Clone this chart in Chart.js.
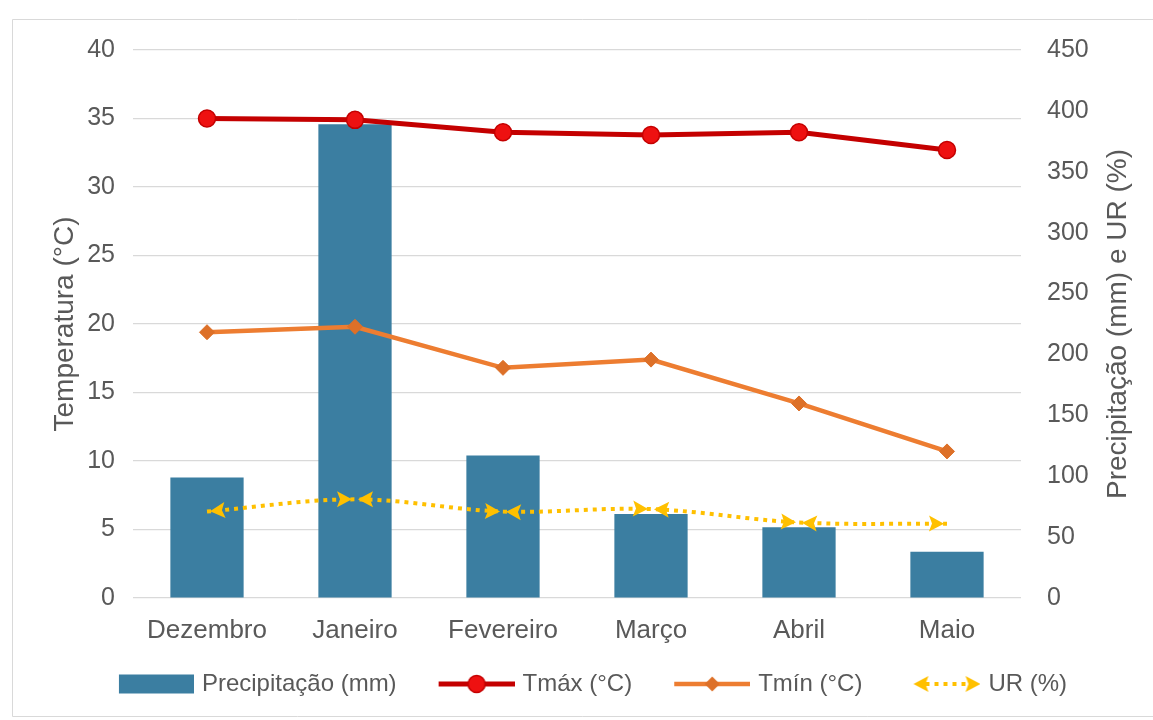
<!DOCTYPE html>
<html lang="pt">
<head>
<meta charset="utf-8">
<title>Clima mensal</title>
<script src="https://cdn.jsdelivr.net/npm/chart.js@4/dist/chart.umd.min.js"></script>
<style>
  html, body { margin: 0; padding: 0; background: #ffffff; }
  #wrap { position: relative; width: 1153px; height: 720px; }
  canvas { display: block; }
</style>
</head>
<body>
<div id="wrap"><canvas id="chart" width="1153" height="720"></canvas></div>
<script>
// Monthly data
const months = ['Dezembro', 'Janeiro', 'Fevereiro', 'Março', 'Abril', 'Maio'];
const precipitacao = [99, 389, 117, 69, 58, 38];       // mm (right axis)
const tmax = [35.0, 34.9, 34.0, 33.8, 34.0, 32.7];      // °C (left axis)
const tmin = [19.4, 19.8, 16.8, 17.4, 14.2, 10.7];      // °C (left axis)
const ur = [71, 81, 71, 73, 62, 61];                    // % (right axis)

const tempTicks = { min: 0, max: 40, step: 5 };
const rightTicks = { min: 0, max: 450, step: 50 };
const rightTitle = 'Precipitação (mm) e UR (%)';

const TEXT = '#595959';
const GRID = '#d9d9d9';
const BAR = '#3b7ea1';
const TMAX_LINE = '#c40000';
const TMAX_POINT = '#ee1111';
const TMIN_LINE = '#ed7d31';
const TMIN_POINT = '#dd7028';
const UR_COLOR = '#ffc000';
const FONT = '"Liberation Sans", Arial, sans-serif';

Chart.defaults.font.family = FONT;
Chart.defaults.color = TEXT;

// Arrowhead with a shallow notch: tip at (x, y), pointing along (dx, dy)
function arrowHead(ctx, x, y, dx, dy, len, half, notch, color) {
  const n = Math.hypot(dx, dy) || 1;
  const ux = dx / n, uy = dy / n;
  const px = -uy, py = ux;
  const bx = x - ux * len, by = y - uy * len;
  ctx.beginPath();
  ctx.moveTo(x, y);
  ctx.lineTo(bx + px * half, by + py * half);
  ctx.lineTo(x - ux * (len - notch), y - uy * (len - notch));
  ctx.lineTo(bx - px * half, by - py * half);
  ctx.closePath();
  ctx.fillStyle = color;
  ctx.fill();
}

// Legend symbols (drawn into small canvases used as point styles)
const LEGEND_BOX = 104;
const LEGEND_R = LEGEND_BOX / 2 + 4;
function legendSymbol(kind) {
  const c = document.createElement('canvas');
  c.width = LEGEND_R * 2;
  c.height = 30;
  const g = c.getContext('2d');
  const right = c.width;
  const cy = 15;
  if (kind === 'bar') {
    const s = 75;
    g.fillStyle = BAR;
    g.fillRect(right - s, cy - 9.5, s, 19);
  } else if (kind === 'tmax') {
    const s = 76, l = right - s;
    g.strokeStyle = TMAX_LINE; g.lineWidth = 5;
    g.beginPath(); g.moveTo(l, cy); g.lineTo(right, cy); g.stroke();
    g.beginPath(); g.arc(l + s / 2, cy, 8.5, 0, Math.PI * 2);
    g.fillStyle = TMAX_POINT; g.fill();
    g.lineWidth = 1.5; g.strokeStyle = TMAX_LINE; g.stroke();
  } else if (kind === 'tmin') {
    const s = 76, l = right - s, m = l + s / 2;
    g.strokeStyle = TMIN_LINE; g.lineWidth = 4.5;
    g.beginPath(); g.moveTo(l, cy); g.lineTo(right, cy); g.stroke();
    g.beginPath(); g.moveTo(m, cy - 7.5); g.lineTo(m + 7.5, cy); g.lineTo(m, cy + 7.5); g.lineTo(m - 7.5, cy); g.closePath();
    g.fillStyle = TMIN_POINT; g.fill();
  } else {
    const s = 67, l = right - s;
    g.strokeStyle = UR_COLOR; g.lineWidth = 4; g.setLineDash([4, 5]);
    g.beginPath(); g.moveTo(l + 12, cy); g.lineTo(right - 12, cy); g.stroke();
    g.setLineDash([]);
    arrowHead(g, l, cy, -1, 0, 15, 8, 3, UR_COLOR);
    arrowHead(g, right, cy, 1, 0, 15, 8, 3, UR_COLOR);
  }
  return c;
}
const legendSymbols = [legendSymbol('bar'), legendSymbol('tmax'), legendSymbol('tmin'), legendSymbol('ur')];

// White background and light outer frame
const framePlugin = {
  id: 'frame',
  beforeDraw(chart) {
    const ctx = chart.ctx;
    ctx.save();
    ctx.fillStyle = '#ffffff';
    ctx.fillRect(0, 0, chart.width, chart.height);
    ctx.strokeStyle = GRID;
    ctx.lineWidth = 1;
    ctx.beginPath();
    ctx.moveTo(1153, 19.5); ctx.lineTo(12.5, 19.5); ctx.lineTo(12.5, 716.5); ctx.lineTo(1153, 716.5);
    ctx.stroke();
    ctx.restore();
  }
};

// Right axis title, read from bottom to top
const rightTitlePlugin = {
  id: 'rightTitle',
  afterDraw(chart) {
    const area = chart.chartArea;
    const ctx = chart.ctx;
    ctx.save();
    ctx.translate(1118, (area.top + area.bottom) / 2);
    ctx.rotate(-Math.PI / 2);
    ctx.font = '28px ' + FONT;
    ctx.fillStyle = TEXT;
    ctx.textAlign = 'center';
    ctx.textBaseline = 'middle';
    ctx.fillText(rightTitle, 0, 0);
    ctx.restore();
  }
};

// Arrowheads at both ends of every segment of the humidity line
const segmentArrows = {
  id: 'segmentArrows',
  afterDatasetsDraw(chart) {
    const idx = chart.data.datasets.findIndex(d => d.segmentArrows);
    if (idx < 0) return;
    const meta = chart.getDatasetMeta(idx);
    const pts = meta.data;
    const ctx = chart.ctx;
    const color = chart.data.datasets[idx].borderColor;
    ctx.save();
    for (let i = 0; i < pts.length - 1; i++) {
      const a = pts[i], b = pts[i + 1];
      let sx = a.x - a.cp2x, sy = a.y - a.cp2y;
      if (!isFinite(sx) || Math.hypot(sx, sy) < 0.5) { sx = a.x - b.x; sy = a.y - b.y; }
      let ex = b.x - b.cp1x, ey = b.y - b.cp1y;
      if (!isFinite(ex) || Math.hypot(ex, ey) < 0.5) { ex = b.x - a.x; ey = b.y - a.y; }
      const sn = Math.hypot(sx, sy), en = Math.hypot(ex, ey);
      arrowHead(ctx, a.x - sx / sn * 3, a.y - sy / sn * 3, sx, sy, 15, 8, 3, color);
      arrowHead(ctx, b.x - ex / en * 3, b.y - ey / en * 3, ex, ey, 15, 8, 3, color);
    }
    ctx.restore();
  }
};

const ctx = document.getElementById('chart').getContext('2d');
new Chart(ctx, {
  data: {
    labels: months,
    datasets: [
      {
        type: 'bar',
        label: 'Precipitação (mm)',
        data: precipitacao,
        yAxisID: 'yRight',
        backgroundColor: BAR,
        barPercentage: 1,
        categoryPercentage: 0.495,
        order: 10
      },
      {
        type: 'line',
        label: 'Tmáx (°C)',
        data: tmax,
        yAxisID: 'yTemp',
        borderColor: TMAX_LINE,
        borderWidth: 5,
        pointStyle: 'circle',
        pointRadius: 8.5,
        pointBackgroundColor: TMAX_POINT,
        pointBorderColor: TMAX_LINE,
        pointBorderWidth: 1.5,
        tension: 0,
        order: 1
      },
      {
        type: 'line',
        label: 'Tmín (°C)',
        data: tmin,
        yAxisID: 'yTemp',
        borderColor: TMIN_LINE,
        borderWidth: 4.5,
        pointStyle: 'rectRot',
        pointRadius: 7.5,
        pointBackgroundColor: TMIN_POINT,
        pointBorderColor: TMIN_POINT,
        pointBorderWidth: 1,
        tension: 0,
        order: 2
      },
      {
        type: 'line',
        label: 'UR (%)',
        data: ur,
        yAxisID: 'yRight',
        borderColor: UR_COLOR,
        borderWidth: 4,
        borderDash: [4, 5],
        pointRadius: 0,
        tension: 0.35,
        segmentArrows: true,
        order: 3
      }
    ]
  },
  options: {
    responsive: false,
    animation: false,
    layout: { padding: { left: 0, right: 0, top: 50, bottom: 14 } },
    scales: {
      x: {
        offset: true,
        grid: { display: false },
        border: { display: false },
        ticks: { font: { size: 26 }, color: TEXT, padding: 9, maxRotation: 0 },
        afterFit(s) { s.height = 64; }
      },
      yTemp: {
        position: 'left',
        min: tempTicks.min,
        max: tempTicks.max,
        ticks: { stepSize: tempTicks.step, font: { size: 25 }, color: TEXT, padding: 18 },
        grid: { color: GRID, lineWidth: 1.2, drawTicks: false },
        border: { display: false },
        title: { display: true, text: 'Temperatura (°C)', font: { size: 28 }, color: TEXT, padding: { top: 48, bottom: 0 } },
        afterFit(s) { s.width = 133; }
      },
      yRight: {
        position: 'right',
        min: rightTicks.min,
        max: rightTicks.max,
        ticks: { stepSize: rightTicks.step, font: { size: 25 }, color: TEXT, padding: 26 },
        grid: { drawOnChartArea: false, drawTicks: false },
        border: { display: false },
        title: { display: false },
        afterFit(s) { s.width = 132; }
      }
    },
    plugins: {
      tooltip: { enabled: false },
      legend: {
        position: 'bottom',
        labels: {
          usePointStyle: true,
          pointStyleWidth: LEGEND_BOX,
          padding: 10,
          color: TEXT,
          font: { size: 24 },
          sort: (a, b) => a.datasetIndex - b.datasetIndex,
          generateLabels(chart) {
            const items = Chart.defaults.plugins.legend.labels.generateLabels(chart);
            items.forEach(it => { it.pointStyle = legendSymbols[it.datasetIndex]; });
            return items;
          }
        }
      }
    }
  },
  plugins: [framePlugin, rightTitlePlugin, segmentArrows]
});
</script>
</body>
</html>
